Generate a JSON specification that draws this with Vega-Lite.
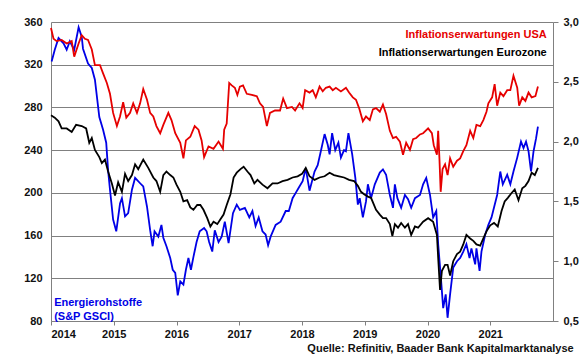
{
"$schema": "https://vega.github.io/schema/vega-lite/v6.json",
"width": 502, "height": 299,
"autosize": {"type": "none"},
"padding": {"left": 51, "top": 22, "right": 27, "bottom": 38},
"background": "white",
"config": {"view": {"stroke": null}, "font": "Liberation Sans"},
"datasets": {
"energie": [
{"t":2014.01,"v":323},{"t":2014.06,"v":334},{"t":2014.12,"v":345},{"t":2014.20,"v":340},{"t":2014.25,"v":334},{"t":2014.30,"v":342},{"t":2014.37,"v":334},{"t":2014.44,"v":355},{"t":2014.49,"v":346},{"t":2014.51,"v":335},{"t":2014.59,"v":321},{"t":2014.65,"v":317},{"t":2014.70,"v":306},{"t":2014.77,"v":271},{"t":2014.83,"v":259},{"t":2014.88,"v":247},{"t":2014.91,"v":221},{"t":2014.94,"v":203},{"t":2014.99,"v":175},{"t":2015.04,"v":164},{"t":2015.10,"v":190},{"t":2015.13,"v":195},{"t":2015.18,"v":178},{"t":2015.23,"v":181},{"t":2015.29,"v":203},{"t":2015.34,"v":214},{"t":2015.42,"v":209},{"t":2015.47,"v":206},{"t":2015.53,"v":187},{"t":2015.58,"v":165},{"t":2015.62,"v":150},{"t":2015.65,"v":164},{"t":2015.71,"v":159},{"t":2015.76,"v":170},{"t":2015.79,"v":158},{"t":2015.84,"v":150},{"t":2015.90,"v":139},{"t":2015.94,"v":128},{"t":2015.98,"v":125},{"t":2016.02,"v":104},{"t":2016.06,"v":117},{"t":2016.11,"v":114},{"t":2016.15,"v":128},{"t":2016.19,"v":139},{"t":2016.23,"v":128},{"t":2016.27,"v":140},{"t":2016.32,"v":154},{"t":2016.37,"v":164},{"t":2016.44,"v":167},{"t":2016.48,"v":164},{"t":2016.52,"v":154},{"t":2016.57,"v":145},{"t":2016.61,"v":165},{"t":2016.67,"v":154},{"t":2016.72,"v":159},{"t":2016.77,"v":173},{"t":2016.83,"v":153},{"t":2016.90,"v":181},{"t":2016.96,"v":189},{"t":2017.01,"v":184},{"t":2017.09,"v":186},{"t":2017.16,"v":177},{"t":2017.21,"v":183},{"t":2017.26,"v":169},{"t":2017.31,"v":177},{"t":2017.37,"v":164},{"t":2017.42,"v":161},{"t":2017.46,"v":151},{"t":2017.50,"v":159},{"t":2017.58,"v":170},{"t":2017.66,"v":173},{"t":2017.74,"v":183},{"t":2017.79,"v":183},{"t":2017.85,"v":195},{"t":2017.90,"v":200},{"t":2017.95,"v":205},{"t":2018.01,"v":211},{"t":2018.06,"v":223},{"t":2018.12,"v":202},{"t":2018.20,"v":220},{"t":2018.25,"v":226},{"t":2018.30,"v":239},{"t":2018.36,"v":255},{"t":2018.41,"v":245},{"t":2018.44,"v":236},{"t":2018.48,"v":256},{"t":2018.53,"v":240},{"t":2018.58,"v":247},{"t":2018.62,"v":233},{"t":2018.67,"v":240},{"t":2018.70,"v":239},{"t":2018.74,"v":256},{"t":2018.80,"v":236},{"t":2018.85,"v":214},{"t":2018.89,"v":189},{"t":2018.92,"v":195},{"t":2018.97,"v":177},{"t":2019.02,"v":192},{"t":2019.05,"v":208},{"t":2019.10,"v":195},{"t":2019.16,"v":208},{"t":2019.24,"v":219},{"t":2019.29,"v":222},{"t":2019.34,"v":217},{"t":2019.40,"v":198},{"t":2019.45,"v":186},{"t":2019.48,"v":208},{"t":2019.52,"v":195},{"t":2019.58,"v":186},{"t":2019.64,"v":198},{"t":2019.69,"v":194},{"t":2019.74,"v":186},{"t":2019.80,"v":195},{"t":2019.88,"v":198},{"t":2019.93,"v":208},{"t":2019.98,"v":214},{"t":2020.04,"v":198},{"t":2020.09,"v":177},{"t":2020.14,"v":183},{"t":2020.17,"v":152},{"t":2020.21,"v":123},{"t":2020.25,"v":92},{"t":2020.29,"v":105},{"t":2020.32,"v":83},{"t":2020.36,"v":105},{"t":2020.41,"v":130},{"t":2020.47,"v":136},{"t":2020.52,"v":139},{"t":2020.57,"v":145},{"t":2020.62,"v":152},{"t":2020.67,"v":139},{"t":2020.70,"v":148},{"t":2020.76,"v":133},{"t":2020.78,"v":148},{"t":2020.83,"v":127},{"t":2020.86,"v":145},{"t":2020.92,"v":161},{"t":2020.97,"v":170},{"t":2021.02,"v":177},{"t":2021.11,"v":198},{"t":2021.16,"v":220},{"t":2021.20,"v":208},{"t":2021.27,"v":217},{"t":2021.32,"v":208},{"t":2021.37,"v":220},{"t":2021.43,"v":233},{"t":2021.49,"v":248},{"t":2021.53,"v":242},{"t":2021.57,"v":248},{"t":2021.61,"v":239},{"t":2021.65,"v":220},{"t":2021.69,"v":239},{"t":2021.73,"v":251},{"t":2021.76,"v":262}
],
"infl": [
{"s":"USA","t":2014.00,"r":2.95},{"s":"USA","t":2014.04,"r":2.86},{"s":"USA","t":2014.09,"r":2.84},{"s":"USA","t":2014.17,"r":2.85},{"s":"USA","t":2014.25,"r":2.82},{"s":"USA","t":2014.33,"r":2.84},{"s":"USA","t":2014.37,"r":2.71},{"s":"USA","t":2014.44,"r":2.82},{"s":"USA","t":2014.49,"r":2.89},{"s":"USA","t":2014.54,"r":2.86},{"s":"USA","t":2014.59,"r":2.85},{"s":"USA","t":2014.65,"r":2.77},{"s":"USA","t":2014.70,"r":2.64},{"s":"USA","t":2014.78,"r":2.64},{"s":"USA","t":2014.83,"r":2.57},{"s":"USA","t":2014.89,"r":2.49},{"s":"USA","t":2014.94,"r":2.40},{"s":"USA","t":2014.99,"r":2.24},{"s":"USA","t":2015.05,"r":2.13},{"s":"USA","t":2015.10,"r":2.21},{"s":"USA","t":2015.15,"r":2.33},{"s":"USA","t":2015.20,"r":2.20},{"s":"USA","t":2015.26,"r":2.24},{"s":"USA","t":2015.31,"r":2.32},{"s":"USA","t":2015.37,"r":2.24},{"s":"USA","t":2015.42,"r":2.32},{"s":"USA","t":2015.47,"r":2.44},{"s":"USA","t":2015.53,"r":2.35},{"s":"USA","t":2015.58,"r":2.24},{"s":"USA","t":2015.63,"r":2.21},{"s":"USA","t":2015.68,"r":2.13},{"s":"USA","t":2015.74,"r":2.07},{"s":"USA","t":2015.79,"r":2.14},{"s":"USA","t":2015.87,"r":2.24},{"s":"USA","t":2015.92,"r":2.18},{"s":"USA","t":2015.98,"r":2.07},{"s":"USA","t":2016.06,"r":1.99},{"s":"USA","t":2016.11,"r":1.86},{"s":"USA","t":2016.15,"r":2.01},{"s":"USA","t":2016.22,"r":2.04},{"s":"USA","t":2016.29,"r":2.13},{"s":"USA","t":2016.35,"r":2.10},{"s":"USA","t":2016.40,"r":2.01},{"s":"USA","t":2016.44,"r":1.87},{"s":"USA","t":2016.51,"r":1.96},{"s":"USA","t":2016.59,"r":1.94},{"s":"USA","t":2016.67,"r":2.00},{"s":"USA","t":2016.74,"r":1.94},{"s":"USA","t":2016.76,"r":2.10},{"s":"USA","t":2016.80,"r":2.15},{"s":"USA","t":2016.84,"r":2.49},{"s":"USA","t":2016.88,"r":2.47},{"s":"USA","t":2016.93,"r":2.45},{"s":"USA","t":2016.97,"r":2.39},{"s":"USA","t":2017.01,"r":2.46},{"s":"USA","t":2017.06,"r":2.47},{"s":"USA","t":2017.12,"r":2.40},{"s":"USA","t":2017.20,"r":2.39},{"s":"USA","t":2017.28,"r":2.38},{"s":"USA","t":2017.33,"r":2.32},{"s":"USA","t":2017.38,"r":2.29},{"s":"USA","t":2017.44,"r":2.13},{"s":"USA","t":2017.49,"r":2.24},{"s":"USA","t":2017.57,"r":2.26},{"s":"USA","t":2017.65,"r":2.26},{"s":"USA","t":2017.70,"r":2.36},{"s":"USA","t":2017.76,"r":2.28},{"s":"USA","t":2017.84,"r":2.29},{"s":"USA","t":2017.89,"r":2.26},{"s":"USA","t":2017.96,"r":2.32},{"s":"USA","t":2018.01,"r":2.28},{"s":"USA","t":2018.05,"r":2.43},{"s":"USA","t":2018.12,"r":2.41},{"s":"USA","t":2018.17,"r":2.43},{"s":"USA","t":2018.22,"r":2.37},{"s":"USA","t":2018.28,"r":2.46},{"s":"USA","t":2018.33,"r":2.42},{"s":"USA","t":2018.38,"r":2.45},{"s":"USA","t":2018.44,"r":2.46},{"s":"USA","t":2018.49,"r":2.43},{"s":"USA","t":2018.54,"r":2.45},{"s":"USA","t":2018.62,"r":2.42},{"s":"USA","t":2018.70,"r":2.45},{"s":"USA","t":2018.75,"r":2.41},{"s":"USA","t":2018.81,"r":2.37},{"s":"USA","t":2018.86,"r":2.35},{"s":"USA","t":2018.91,"r":2.28},{"s":"USA","t":2018.97,"r":2.17},{"s":"USA","t":2019.02,"r":2.21},{"s":"USA","t":2019.08,"r":2.18},{"s":"USA","t":2019.13,"r":2.27},{"s":"USA","t":2019.18,"r":2.28},{"s":"USA","t":2019.24,"r":2.25},{"s":"USA","t":2019.29,"r":2.31},{"s":"USA","t":2019.34,"r":2.23},{"s":"USA","t":2019.40,"r":2.09},{"s":"USA","t":2019.45,"r":2.03},{"s":"USA","t":2019.50,"r":2.04},{"s":"USA","t":2019.56,"r":2.00},{"s":"USA","t":2019.61,"r":1.89},{"s":"USA","t":2019.66,"r":1.99},{"s":"USA","t":2019.72,"r":1.93},{"s":"USA","t":2019.77,"r":2.02},{"s":"USA","t":2019.82,"r":2.03},{"s":"USA","t":2019.88,"r":2.06},{"s":"USA","t":2019.93,"r":2.07},{"s":"USA","t":2020.01,"r":2.11},{"s":"USA","t":2020.07,"r":2.07},{"s":"USA","t":2020.10,"r":1.97},{"s":"USA","t":2020.15,"r":1.89},{"s":"USA","t":2020.17,"r":2.09},{"s":"USA","t":2020.19,"r":1.86},{"s":"USA","t":2020.21,"r":1.58},{"s":"USA","t":2020.24,"r":1.77},{"s":"USA","t":2020.28,"r":1.81},{"s":"USA","t":2020.32,"r":1.72},{"s":"USA","t":2020.36,"r":1.86},{"s":"USA","t":2020.41,"r":1.79},{"s":"USA","t":2020.47,"r":1.84},{"s":"USA","t":2020.52,"r":1.86},{"s":"USA","t":2020.57,"r":1.92},{"s":"USA","t":2020.62,"r":1.97},{"s":"USA","t":2020.68,"r":2.09},{"s":"USA","t":2020.73,"r":2.03},{"s":"USA","t":2020.78,"r":2.14},{"s":"USA","t":2020.84,"r":2.13},{"s":"USA","t":2020.89,"r":2.18},{"s":"USA","t":2020.94,"r":2.25},{"s":"USA","t":2020.97,"r":2.32},{"s":"USA","t":2021.03,"r":2.37},{"s":"USA","t":2021.07,"r":2.48},{"s":"USA","t":2021.11,"r":2.30},{"s":"USA","t":2021.16,"r":2.41},{"s":"USA","t":2021.21,"r":2.38},{"s":"USA","t":2021.27,"r":2.43},{"s":"USA","t":2021.32,"r":2.43},{"s":"USA","t":2021.37,"r":2.55},{"s":"USA","t":2021.43,"r":2.45},{"s":"USA","t":2021.46,"r":2.30},{"s":"USA","t":2021.51,"r":2.37},{"s":"USA","t":2021.56,"r":2.34},{"s":"USA","t":2021.61,"r":2.41},{"s":"USA","t":2021.66,"r":2.37},{"s":"USA","t":2021.72,"r":2.38},{"s":"USA","t":2021.76,"r":2.46},
{"s":"Eurozone","t":2014.00,"r":2.22},{"s":"Eurozone","t":2014.06,"r":2.20},{"s":"Eurozone","t":2014.12,"r":2.17},{"s":"Eurozone","t":2014.17,"r":2.11},{"s":"Eurozone","t":2014.25,"r":2.11},{"s":"Eurozone","t":2014.33,"r":2.08},{"s":"Eurozone","t":2014.40,"r":2.14},{"s":"Eurozone","t":2014.49,"r":2.13},{"s":"Eurozone","t":2014.56,"r":2.11},{"s":"Eurozone","t":2014.61,"r":1.99},{"s":"Eurozone","t":2014.65,"r":2.03},{"s":"Eurozone","t":2014.70,"r":1.93},{"s":"Eurozone","t":2014.77,"r":1.87},{"s":"Eurozone","t":2014.81,"r":1.82},{"s":"Eurozone","t":2014.86,"r":1.85},{"s":"Eurozone","t":2014.91,"r":1.75},{"s":"Eurozone","t":2014.97,"r":1.65},{"s":"Eurozone","t":2015.02,"r":1.55},{"s":"Eurozone","t":2015.07,"r":1.66},{"s":"Eurozone","t":2015.13,"r":1.58},{"s":"Eurozone","t":2015.18,"r":1.73},{"s":"Eurozone","t":2015.23,"r":1.67},{"s":"Eurozone","t":2015.29,"r":1.72},{"s":"Eurozone","t":2015.34,"r":1.81},{"s":"Eurozone","t":2015.39,"r":1.77},{"s":"Eurozone","t":2015.47,"r":1.85},{"s":"Eurozone","t":2015.55,"r":1.78},{"s":"Eurozone","t":2015.63,"r":1.70},{"s":"Eurozone","t":2015.68,"r":1.67},{"s":"Eurozone","t":2015.74,"r":1.58},{"s":"Eurozone","t":2015.79,"r":1.72},{"s":"Eurozone","t":2015.84,"r":1.75},{"s":"Eurozone","t":2015.90,"r":1.72},{"s":"Eurozone","t":2015.95,"r":1.70},{"s":"Eurozone","t":2016.00,"r":1.64},{"s":"Eurozone","t":2016.06,"r":1.58},{"s":"Eurozone","t":2016.11,"r":1.50},{"s":"Eurozone","t":2016.17,"r":1.51},{"s":"Eurozone","t":2016.22,"r":1.45},{"s":"Eurozone","t":2016.27,"r":1.43},{"s":"Eurozone","t":2016.33,"r":1.47},{"s":"Eurozone","t":2016.38,"r":1.47},{"s":"Eurozone","t":2016.43,"r":1.43},{"s":"Eurozone","t":2016.49,"r":1.36},{"s":"Eurozone","t":2016.54,"r":1.29},{"s":"Eurozone","t":2016.59,"r":1.33},{"s":"Eurozone","t":2016.65,"r":1.31},{"s":"Eurozone","t":2016.70,"r":1.35},{"s":"Eurozone","t":2016.75,"r":1.39},{"s":"Eurozone","t":2016.80,"r":1.47},{"s":"Eurozone","t":2016.86,"r":1.56},{"s":"Eurozone","t":2016.91,"r":1.70},{"s":"Eurozone","t":2016.96,"r":1.74},{"s":"Eurozone","t":2017.02,"r":1.77},{"s":"Eurozone","t":2017.07,"r":1.79},{"s":"Eurozone","t":2017.13,"r":1.75},{"s":"Eurozone","t":2017.18,"r":1.72},{"s":"Eurozone","t":2017.24,"r":1.65},{"s":"Eurozone","t":2017.29,"r":1.68},{"s":"Eurozone","t":2017.37,"r":1.64},{"s":"Eurozone","t":2017.45,"r":1.61},{"s":"Eurozone","t":2017.53,"r":1.65},{"s":"Eurozone","t":2017.61,"r":1.65},{"s":"Eurozone","t":2017.69,"r":1.67},{"s":"Eurozone","t":2017.77,"r":1.68},{"s":"Eurozone","t":2017.85,"r":1.70},{"s":"Eurozone","t":2017.93,"r":1.71},{"s":"Eurozone","t":2018.00,"r":1.73},{"s":"Eurozone","t":2018.06,"r":1.78},{"s":"Eurozone","t":2018.12,"r":1.71},{"s":"Eurozone","t":2018.20,"r":1.68},{"s":"Eurozone","t":2018.28,"r":1.70},{"s":"Eurozone","t":2018.36,"r":1.71},{"s":"Eurozone","t":2018.44,"r":1.74},{"s":"Eurozone","t":2018.51,"r":1.72},{"s":"Eurozone","t":2018.59,"r":1.71},{"s":"Eurozone","t":2018.67,"r":1.70},{"s":"Eurozone","t":2018.75,"r":1.68},{"s":"Eurozone","t":2018.83,"r":1.67},{"s":"Eurozone","t":2018.89,"r":1.63},{"s":"Eurozone","t":2018.94,"r":1.58},{"s":"Eurozone","t":2018.99,"r":1.56},{"s":"Eurozone","t":2019.05,"r":1.54},{"s":"Eurozone","t":2019.10,"r":1.53},{"s":"Eurozone","t":2019.18,"r":1.43},{"s":"Eurozone","t":2019.24,"r":1.39},{"s":"Eurozone","t":2019.29,"r":1.36},{"s":"Eurozone","t":2019.34,"r":1.36},{"s":"Eurozone","t":2019.40,"r":1.31},{"s":"Eurozone","t":2019.44,"r":1.21},{"s":"Eurozone","t":2019.48,"r":1.31},{"s":"Eurozone","t":2019.53,"r":1.28},{"s":"Eurozone","t":2019.58,"r":1.32},{"s":"Eurozone","t":2019.64,"r":1.28},{"s":"Eurozone","t":2019.69,"r":1.31},{"s":"Eurozone","t":2019.74,"r":1.22},{"s":"Eurozone","t":2019.80,"r":1.29},{"s":"Eurozone","t":2019.85,"r":1.28},{"s":"Eurozone","t":2019.93,"r":1.33},{"s":"Eurozone","t":2020.01,"r":1.36},{"s":"Eurozone","t":2020.09,"r":1.33},{"s":"Eurozone","t":2020.15,"r":1.22},{"s":"Eurozone","t":2020.17,"r":1.03},{"s":"Eurozone","t":2020.20,"r":0.76},{"s":"Eurozone","t":2020.23,"r":0.92},{"s":"Eurozone","t":2020.28,"r":0.97},{"s":"Eurozone","t":2020.32,"r":0.97},{"s":"Eurozone","t":2020.36,"r":0.88},{"s":"Eurozone","t":2020.41,"r":1.00},{"s":"Eurozone","t":2020.47,"r":1.06},{"s":"Eurozone","t":2020.52,"r":1.08},{"s":"Eurozone","t":2020.57,"r":1.14},{"s":"Eurozone","t":2020.62,"r":1.22},{"s":"Eurozone","t":2020.68,"r":1.19},{"s":"Eurozone","t":2020.73,"r":1.17},{"s":"Eurozone","t":2020.78,"r":1.14},{"s":"Eurozone","t":2020.84,"r":1.13},{"s":"Eurozone","t":2020.89,"r":1.19},{"s":"Eurozone","t":2020.94,"r":1.25},{"s":"Eurozone","t":2021.00,"r":1.30},{"s":"Eurozone","t":2021.06,"r":1.32},{"s":"Eurozone","t":2021.12,"r":1.29},{"s":"Eurozone","t":2021.18,"r":1.42},{"s":"Eurozone","t":2021.23,"r":1.50},{"s":"Eurozone","t":2021.28,"r":1.53},{"s":"Eurozone","t":2021.34,"r":1.57},{"s":"Eurozone","t":2021.39,"r":1.60},{"s":"Eurozone","t":2021.45,"r":1.51},{"s":"Eurozone","t":2021.51,"r":1.61},{"s":"Eurozone","t":2021.56,"r":1.63},{"s":"Eurozone","t":2021.61,"r":1.67},{"s":"Eurozone","t":2021.66,"r":1.74},{"s":"Eurozone","t":2021.71,"r":1.72},{"s":"Eurozone","t":2021.76,"r":1.78}
],
"one": [{}]
},
"layer": [
{
"layer": [
{
"data": {"name": "energie"},
"mark": {"type": "line", "color": "#0000e6", "strokeWidth": 1.8},
"encoding": {
"x": {"field": "t", "type": "quantitative", "scale": {"domain": [2014, 2022], "nice": false, "zero": false},
"axis": {"values": [2014, 2015, 2016, 2017, 2018, 2019, 2020, 2021], "format": "d", "title": null, "grid": false, "domainColor": "#808080", "tickColor": "#808080", "tickSize": 4, "labelPadding": 3, "labelFont": "Liberation Sans", "labelFontSize": 11, "labelFontWeight": "bold", "labelColor": "#111111"}},
"y": {"field": "v", "type": "quantitative", "scale": {"domain": [80, 360], "nice": false, "zero": false},
"axis": {"values": [80, 120, 160, 200, 240, 280, 320, 360], "title": null, "grid": true, "gridColor": "#808080", "gridOpacity": 1, "ticks": false, "domainColor": "#808080", "labelPadding": 9, "labelFont": "Liberation Sans", "labelFontSize": 11, "labelFontWeight": "bold", "labelColor": "#111111"}}
}
},
{
"data": {"name": "one"},
"mark": {"type": "text", "text": "Inflationserwartungen USA", "align": "right", "baseline": "middle", "font": "Liberation Sans", "fontSize": 11, "fontWeight": "bold", "color": "#e60000"},
"encoding": {"x": {"datum": 2021.9, "type": "quantitative", "scale": {"domain": [2014, 2022], "nice": false, "zero": false}}, "y": {"datum": 347.5, "type": "quantitative", "scale": {"domain": [80, 360], "nice": false, "zero": false}}}
},
{
"data": {"name": "one"},
"mark": {"type": "text", "text": "Inflationserwartungen Eurozone", "align": "right", "baseline": "middle", "font": "Liberation Sans", "fontSize": 11, "fontWeight": "bold", "color": "#000000"},
"encoding": {"x": {"datum": 2021.9, "type": "quantitative", "scale": {"domain": [2014, 2022], "nice": false, "zero": false}}, "y": {"datum": 331, "type": "quantitative", "scale": {"domain": [80, 360], "nice": false, "zero": false}}}
},
{
"data": {"name": "one"},
"mark": {"type": "text", "text": ["Energierohstoffe", "(S&P GSCI)"], "align": "left", "baseline": "middle", "lineHeight": 13.5, "font": "Liberation Sans", "fontSize": 11, "fontWeight": "bold", "color": "#0000e6"},
"encoding": {"x": {"datum": 2014.05, "type": "quantitative", "scale": {"domain": [2014, 2022], "nice": false, "zero": false}}, "y": {"datum": 96.5, "type": "quantitative", "scale": {"domain": [80, 360], "nice": false, "zero": false}}}
},
{
"data": {"name": "one"},
"mark": {"type": "text", "text": "Quelle: Refinitiv, Baader Bank Kapitalmarktanalyse", "align": "right", "baseline": "middle", "font": "Liberation Sans", "fontSize": 11, "fontWeight": "bold", "color": "#111111"},
"encoding": {"x": {"datum": 2022.33, "type": "quantitative", "scale": {"domain": [2014, 2022], "nice": false, "zero": false}}, "y": {"datum": 53.8, "type": "quantitative", "scale": {"domain": [80, 360], "nice": false, "zero": false}}}
}
]
},
{
"data": {"name": "infl"},
"mark": {"type": "line", "strokeWidth": 1.8},
"encoding": {
"x": {"field": "t", "type": "quantitative", "scale": {"domain": [2014, 2022], "nice": false, "zero": false}},
"y": {"field": "r", "type": "quantitative", "scale": {"domain": [0.5, 3.0], "nice": false, "zero": false},
"axis": {"orient": "right", "values": [0.5, 1.0, 1.5, 2.0, 2.5, 3.0], "labelExpr": "replace(format(datum.value, '.1f'), '.', ',')", "title": null, "grid": false, "domainColor": "#808080", "tickColor": "#808080", "tickSize": 5, "labelPadding": 5, "labelFont": "Liberation Sans", "labelFontSize": 11, "labelFontWeight": "bold", "labelColor": "#111111"}},
"color": {"field": "s", "type": "nominal", "scale": {"domain": ["USA", "Eurozone"], "range": ["#e60000", "#000000"]}, "legend": null}
}
}
],
"resolve": {"scale": {"y": "independent"}}
}
